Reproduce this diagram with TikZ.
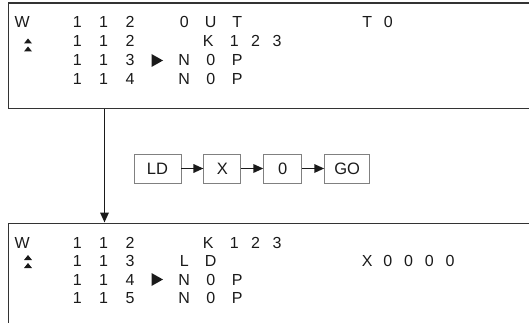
\documentclass[tikz,border=0pt]{standalone}
\usepackage{fontspec}
\setmainfont{Liberation Sans}
\usetikzlibrary{arrows.meta,positioning}
\definecolor{lcdline}{HTML}{333333}
\definecolor{keyline}{HTML}{808080}
\definecolor{ink}{HTML}{1A1A1A}
\newcommand\lcdcells[2]{\foreach \c in {#2}{\makebox[#1]{\c}}}

\begin{document}
\begin{tikzpicture}[
      x=1pt, y=-1pt,
      node distance=22pt,
      screen/.style={rectangle, draw=lcdline, line width=1.4pt, inner sep=0pt,
      anchor=north west, minimum width=545pt},
      lcd/.style={font=\fontsize{16}{19}\selectfont, text=ink, inner sep=0pt,
      anchor=base west},
      key/.style={rectangle, draw=keyline, line width=0.9pt, minimum height=29pt,
      inner sep=0pt, font=\fontsize{16.5}{19}\selectfont, text=ink},
      link/.style={->, line width=1.7pt, draw=ink},
      >={Triangle[length=10pt,width=8.5pt]}]
    \useasboundingbox (0,0) rectangle (529,323);
    \clip (0,0) rectangle (529,323);

    % screens
    \node[screen, minimum height=105.5pt] (screen1) at (7.5,2.5) {};
    \node[screen, minimum height=120pt] (screen2) at (7.5,222.5) {};

    % first screen
    \node[lcd] (t1w) at (12,27.5) {\makebox[20pt]{W}};
    \node[lcd] (t1n) at (63.75,27.5) {\lcdcells{26.5pt}{1,1,2}};
    \node[lcd] (t1op) at (170.75,27.5) {\lcdcells{26.5pt}{0,U,T}};
    \node[lcd] (t1dev) at (356.5,27.5) {\lcdcells{21pt}{T,0}};
    \node[lcd] (t2n) at (63.75,47) {\lcdcells{26.5pt}{1,1,2}};
    \node[lcd] (t2k) at (194.75,47) {\makebox[26.5pt]{K}};
    \node[lcd] (t2v) at (223.25,47) {\lcdcells{21.5pt}{1,2,3}};
    \node[lcd] (t3n) at (63.75,66) {\lcdcells{26.5pt}{1,1,3}};
    \node[lcd] (t3op) at (170.75,66) {\lcdcells{26.5pt}{N,0,P}};
    \node[lcd] (t4n) at (63.75,85) {\lcdcells{26.5pt}{1,1,4}};
    \node[lcd] (t4op) at (170.75,85) {\lcdcells{26.5pt}{N,0,P}};

    % second screen
    \node[lcd] (b1w) at (12,248) {\makebox[20pt]{W}};
    \node[lcd] (b1n) at (63.75,248) {\lcdcells{26.5pt}{1,1,2}};
    \node[lcd] (b1k) at (194.75,248) {\makebox[26.5pt]{K}};
    \node[lcd] (b1v) at (223.25,248) {\lcdcells{21.5pt}{1,2,3}};
    \node[lcd] (b2n) at (63.75,266.5) {\lcdcells{26.5pt}{1,1,3}};
    \node[lcd] (b2op) at (170.75,266.5) {\lcdcells{26.5pt}{L,D}};
    \node[lcd] (b2dev) at (356.6,266.5) {\lcdcells{20.75pt}{X,0,0,0,0}};
    \node[lcd] (b3n) at (63.75,285) {\lcdcells{26.5pt}{1,1,4}};
    \node[lcd] (b3op) at (170.75,285) {\lcdcells{26.5pt}{N,0,P}};
    \node[lcd] (b4n) at (63.75,303.5) {\lcdcells{26.5pt}{1,1,5}};
    \node[lcd] (b4op) at (170.75,303.5) {\lcdcells{26.5pt}{N,0,P}};

    % scroll marks and cursors
    \foreach \ty in {38.5,46.5,255,263}
      \fill[ink] (24,\ty+5) -- (28,\ty) -- (32,\ty+5) -- cycle;
    \foreach \cy in {60.5,279.5}
      \fill[ink] (151.5,\cy-6.5) -- (163,\cy) -- (151.5,\cy+6.5) -- cycle;

    % key sequence
    \node[key, minimum width=47pt] (kld) at (157.5,168.5) {LD};
    \node[key, minimum width=37pt, right=of kld] (kx) {X};
    \node[key, minimum width=38pt, right=of kx] (kzero) {0};
    \node[key, minimum width=45pt, right=of kzero] (kgo) {GO};
    \draw[link] (kld) -- (kx);
    \draw[link] (kx) -- (kzero);
    \draw[link] (kzero) -- (kgo);

    \coordinate (drop) at (104.5,0);
    \draw[link] (screen1.south -| drop) -- (screen2.north -| drop);
  \end{tikzpicture}
\end{document}
